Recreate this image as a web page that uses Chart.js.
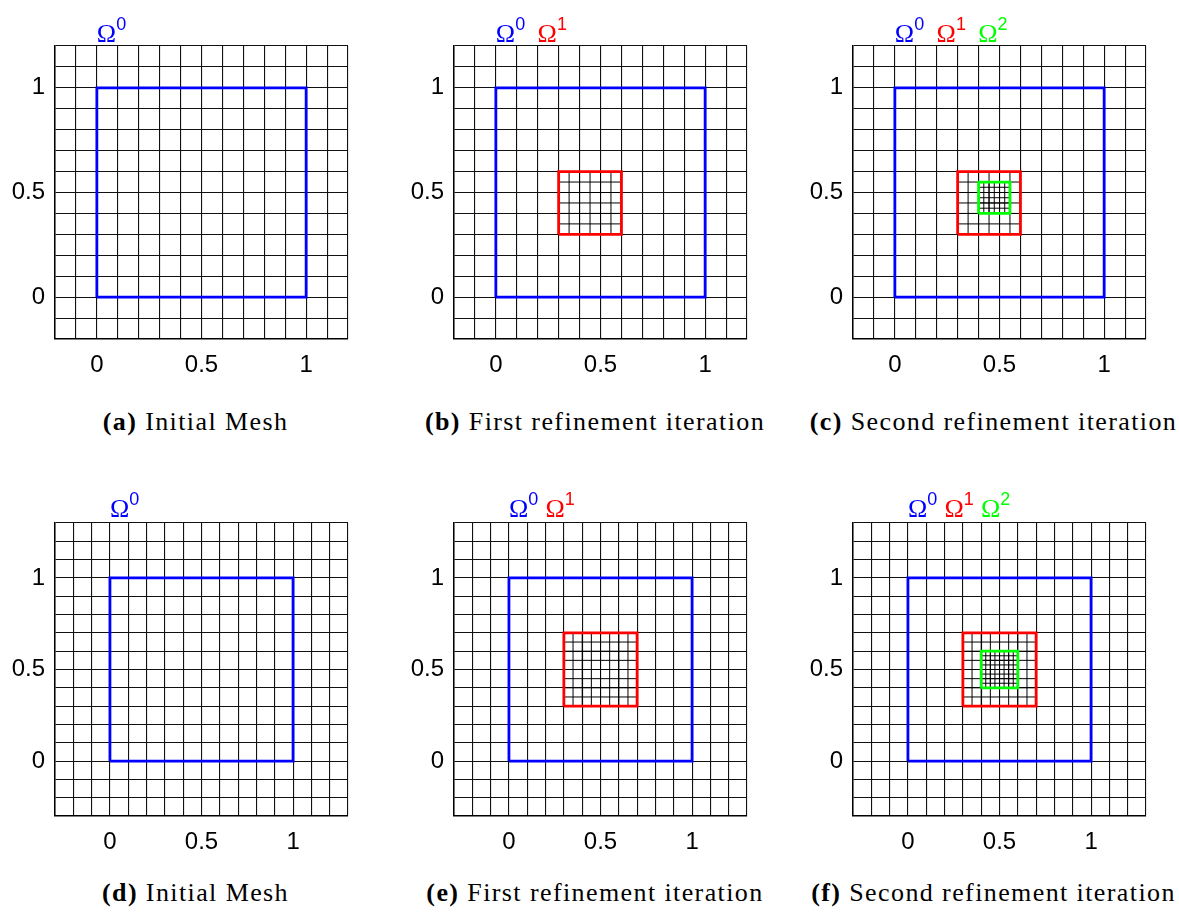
<!DOCTYPE html>
<html>
<head>
<meta charset="utf-8">
<script src="https://cdn.jsdelivr.net/npm/chart.js@4.4.1/dist/chart.umd.min.js"></script>
<style>
  body { margin: 0; background: #fff; width: 1179px; height: 913px; position: relative; overflow: hidden; }
  .panel { position: absolute; }
  .omega { position: absolute; font-family: "Liberation Serif", serif; font-size: 26px; line-height: 28px; white-space: nowrap; }
  .omega span { font-family: "Liberation Sans", Arial, sans-serif; font-size: 18px; position: relative; top: -12px; }
  .caption { position: absolute; font-family: "Liberation Serif", serif; font-size: 26px; line-height: 26px;
             letter-spacing: 1.4px; white-space: nowrap; transform: translateX(-50%); color: #000; }
  .caption b { font-weight: bold; }
</style>
</head>
<body>
<script>
// axis ranges and mesh data
const topRange = [-0.2, 1.2];
const bottomRange = [-0.3, 1.3];
const coarseStep = 0.1;
const tickValues = [0, 0.5, 1];

const omega0Box = [0, 1];
const omega1Top = [0.3, 0.6];
const omega2Top = [0.4, 0.55];
const omega1Bottom = [0.3, 0.7];
const omega2Bottom = [0.4, 0.6];

// interior lines of the refined meshes
const fine1Top = [0.35, 0.4, 0.45, 0.5, 0.55];
const fine2Top = [0.425, 0.45, 0.475, 0.5, 0.525];
const fine1Bottom = [0.35, 0.4, 0.45, 0.5, 0.55, 0.6, 0.65];
const fine2Bottom = [0.425, 0.45, 0.475, 0.5, 0.525, 0.55, 0.575];

const levelColors = ['#0000ff', '#ff0000', '#00ff00'];
const captionLetters = ['a', 'b', 'c', 'd', 'e', 'f'];
const captionTexts = ['Initial Mesh', 'First refinement iteration', 'Second refinement iteration',
                      'Initial Mesh', 'First refinement iteration', 'Second refinement iteration'];

const panels = [
  { range: topRange, levels: [{ box: omega0Box }] },
  { range: topRange, levels: [{ box: omega0Box }, { box: omega1Top, lines: fine1Top }] },
  { range: topRange, levels: [{ box: omega0Box }, { box: omega1Top, lines: fine1Top }, { box: omega2Top, lines: fine2Top }] },
  { range: bottomRange, levels: [{ box: omega0Box }] },
  { range: bottomRange, levels: [{ box: omega0Box }, { box: omega1Bottom, lines: fine1Bottom }] },
  { range: bottomRange, levels: [{ box: omega0Box }, { box: omega1Bottom, lines: fine1Bottom }, { box: omega2Bottom, lines: fine2Bottom }] }
];

// layout
const plotLefts = [55, 454, 853];
const plotTops = [46, 523];
const plotSize = 293;
const padL = 55, padT = 10, padR = 10, padB = 45;
const captionCenters = [195.5, 595, 993.5];
const captionTops = [409, 880];
const omegaTops = [20, 495];
const omegaSpacing = [41.7, 36.5];

function boxPoints(b) {
  return [
    { x: b[0], y: b[0] }, { x: b[1], y: b[0] }, { x: b[1], y: b[1] },
    { x: b[0], y: b[1] }, { x: b[0], y: b[0] }
  ];
}

function meshPoints(lines, b) {
  const pts = [];
  lines.forEach(v => {
    pts.push({ x: v, y: b[0] }, { x: v, y: b[1] }, { x: v, y: null });
    pts.push({ x: b[0], y: v }, { x: b[1], y: v }, { x: b[1], y: null });
  });
  return pts;
}

function tickLabel(v) {
  const t = tickValues.find(t => Math.abs(t - v) < 1e-6);
  return t === undefined ? '' : String(t);
}

function axis(range, isX) {
  return {
    type: 'linear',
    min: range[0],
    max: range[1],
    afterFit: s => {
      if (isX) s.height = padB; else s.width = padL;
      s.paddingTop = s.paddingBottom = s.paddingLeft = s.paddingRight = 0;
    },
    ticks: {
      stepSize: coarseStep,
      maxTicksLimit: 100,
      autoSkip: false,
      minRotation: 0,
      maxRotation: 0,
      padding: isX ? 12 : 10,
      color: '#000',
      font: { family: 'Liberation Sans', size: 24 },
      callback: tickLabel
    },
    grid: { color: '#111', lineWidth: 1.1, drawTicks: false },
    border: { display: true, color: '#000', width: 1.5 }
  };
}

panels.forEach((p, i) => {
  const row = Math.floor(i / 3), col = i % 3;
  const left = plotLefts[col] - padL;
  const top = plotTops[row] - padT;

  const wrap = document.createElement('div');
  wrap.className = 'panel';
  wrap.style.left = left + 'px';
  wrap.style.top = top + 'px';
  const canvas = document.createElement('canvas');
  canvas.width = padL + plotSize + padR;
  canvas.height = padT + plotSize + padB;
  wrap.appendChild(canvas);
  document.body.appendChild(wrap);

  const datasets = [];
  p.levels.forEach((lev, k) => {
    if (lev.lines) {
      datasets.push({
        data: meshPoints(lev.lines, lev.box),
        showLine: true, spanGaps: false,
        borderColor: '#000', borderWidth: 1,
        pointRadius: 0, order: 5
      });
    }
    datasets.push({
      data: boxPoints(lev.box),
      showLine: true,
      borderColor: levelColors[k], borderWidth: 2.8,
      borderJoinStyle: 'miter',
      pointRadius: 0, order: 3 - k
    });
  });

  const chart = new Chart(canvas, {
    type: 'scatter',
    data: { datasets },
    options: {
      responsive: false,
      animation: false,
      events: [],
      layout: { padding: { top: padT, right: padR, left: 0, bottom: 0 } },
      plugins: { legend: { display: false }, tooltip: { enabled: false } },
      elements: { line: { tension: 0 } },
      scales: { x: axis(p.range, true), y: axis(p.range, false) }
    }
  });

  // Omega labels above the axes, starting at x = 0
  const x0 = left + chart.scales.x.getPixelForValue(0);
  p.levels.forEach((lev, k) => {
    const lab = document.createElement('div');
    lab.className = 'omega';
    lab.style.left = (x0 + k * omegaSpacing[row]) + 'px';
    lab.style.top = omegaTops[row] + 'px';
    lab.style.color = levelColors[k];
    lab.innerHTML = '\u03A9<span>' + k + '</span>';
    document.body.appendChild(lab);
  });

  const cap = document.createElement('div');
  cap.className = 'caption';
  cap.style.left = captionCenters[col] + 'px';
  cap.style.top = captionTops[row] + 'px';
  cap.innerHTML = '<b>(' + captionLetters[i] + ')</b> ' + captionTexts[i];
  document.body.appendChild(cap);
});
</script>
</body>
</html>
